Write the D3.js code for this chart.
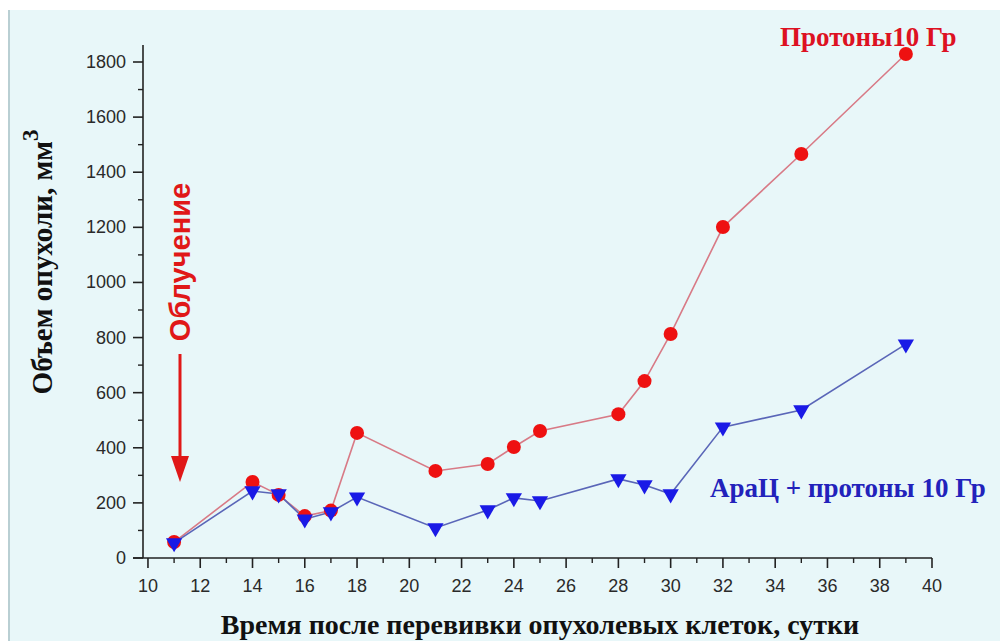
<!DOCTYPE html>
<html>
<head>
<meta charset="utf-8">
<script src="https://cdn.jsdelivr.net/npm/d3@7"></script>
<style>
  body { margin: 0; background: #fff; }
  svg { display: block; }
</style>
</head>
<body>
<div id="chart"></div>
<script>
// данные
var days = [11, 14, 15, 16, 17, 18, 21, 23, 24, 25, 28, 29, 30, 32, 35, 39];
var protons = [58, 276, 229, 152, 172, 454, 316, 341, 403, 461, 522, 642, 813, 1201, 1466, 1829];
var araProtons = [55, 243, 232, 141, 167, 221, 109, 174, 218, 207, 287, 265, 232, 475, 537, 776];

var xTicks = [10, 12, 14, 16, 18, 20, 22, 24, 26, 28, 30, 32, 34, 36, 38, 40];
var yTicks = [0, 200, 400, 600, 800, 1000, 1200, 1400, 1600, 1800];

var width = 1000, height = 641;

var svg = d3.select('#chart').append('svg')
  .attr('width', width)
  .attr('height', height);

// фон
svg.append('rect').attr('width', width).attr('height', height).attr('fill', '#ffffff');
svg.append('rect').attr('x', 10).attr('y', 10).attr('width', width - 10).attr('height', height - 10)
  .attr('fill', '#e8f7f9');
svg.append('rect').attr('x', 8).attr('y', 10).attr('width', 2).attr('height', height - 10)
  .attr('fill', '#b9cfd3');

var x = d3.scaleLinear().domain([9.81, 40]).range([143, 932]);
var y = d3.scaleLinear().domain([0, 1800]).range([558, 62]);

// оси
var axisColor = '#222';
var xAxis = svg.append('g').attr('transform', 'translate(0,558)');
xAxis.append('line').attr('x1', 133).attr('x2', x(40)).attr('stroke', axisColor).attr('stroke-width', 1.6);
xAxis.selectAll('.minor').data(d3.range(11, 40, 2)).enter().append('line')
  .attr('x1', function(d){ return x(d); }).attr('x2', function(d){ return x(d); })
  .attr('y1', 0).attr('y2', 5).attr('stroke', axisColor).attr('stroke-width', 1.4);
xAxis.selectAll('.major').data(xTicks).enter().append('line')
  .attr('x1', function(d){ return x(d); }).attr('x2', function(d){ return x(d); })
  .attr('y1', 0).attr('y2', 10).attr('stroke', axisColor).attr('stroke-width', 1.6);
xAxis.selectAll('text').data(xTicks).enter().append('text')
  .attr('x', function(d){ return x(d); }).attr('y', 34)
  .attr('text-anchor', 'middle')
  .style('font-family', 'Liberation Sans, Arial, sans-serif')
  .style('font-size', '18px').attr('fill', '#2a2a2a')
  .text(function(d){ return d; });

var yAxis = svg.append('g').attr('transform', 'translate(143,0)');
yAxis.append('line').attr('y1', 558).attr('y2', 45).attr('stroke', axisColor).attr('stroke-width', 1.6);
yAxis.selectAll('.minor').data(d3.range(100, 1800, 200)).enter().append('line')
  .attr('y1', function(d){ return y(d); }).attr('y2', function(d){ return y(d); })
  .attr('x1', 0).attr('x2', -5).attr('stroke', axisColor).attr('stroke-width', 1.4);
yAxis.selectAll('.major').data(yTicks).enter().append('line')
  .attr('y1', function(d){ return y(d); }).attr('y2', function(d){ return y(d); })
  .attr('x1', 0).attr('x2', -10).attr('stroke', axisColor).attr('stroke-width', 1.6);
yAxis.selectAll('text').data(yTicks).enter().append('text')
  .attr('x', -17).attr('y', function(d){ return y(d) + 6; })
  .attr('text-anchor', 'end')
  .style('font-family', 'Liberation Sans, Arial, sans-serif')
  .style('font-size', '18px').attr('fill', '#2a2a2a')
  .text(function(d){ return d; });

// линии
var line = d3.line()
  .x(function(d){ return x(d[0]); })
  .y(function(d){ return y(d[1]); });

var redData = d3.zip(days, protons);
var blueData = d3.zip(days, araProtons);

svg.append('path').datum(redData).attr('d', line)
  .attr('fill', 'none').attr('stroke', '#d87a86').attr('stroke-width', 1.6);
svg.append('path').datum(blueData).attr('d', line)
  .attr('fill', 'none').attr('stroke', '#5a66b8').attr('stroke-width', 1.6);

// маркеры
svg.selectAll('.red').data(redData).enter().append('circle')
  .attr('cx', function(d){ return x(d[0]); })
  .attr('cy', function(d){ return y(d[1]); })
  .attr('r', 7).attr('fill', '#ee1111');

var tri = d3.symbol().type(d3.symbolTriangle).size(115);
svg.selectAll('.blue').data(blueData).enter().append('path')
  .attr('d', tri)
  .attr('transform', function(d){ return 'translate(' + x(d[0]) + ',' + y(d[1]) + ') rotate(180)'; })
  .attr('fill', '#1a1ae6');

// подписи
svg.append('text').attr('x', 780).attr('y', 46)
  .style('font-family', 'Liberation Serif, Times New Roman, serif')
  .style('font-weight', 'bold').style('font-size', '27px')
  .attr('fill', '#dd1122').text('Протоны10 Гр');

svg.append('text').attr('x', 710).attr('y', 497)
  .style('font-family', 'Liberation Serif, Times New Roman, serif')
  .style('font-weight', 'bold').style('font-size', '27px')
  .attr('fill', '#2222bb').text('АраЦ + протоны 10 Гр');

// облучение
svg.append('text')
  .attr('transform', 'translate(190,262) rotate(-90)')
  .attr('text-anchor', 'middle')
  .style('font-family', 'Liberation Sans, Arial, sans-serif')
  .style('font-weight', 'bold').style('font-size', '29px')
  .attr('fill', '#e01818').text('Облучение');

svg.append('line').attr('x1', 180).attr('x2', 180).attr('y1', 354).attr('y2', 458)
  .attr('stroke', '#e01818').attr('stroke-width', 3);
svg.append('path').attr('d', 'M171,456 L189,456 L180,482 Z').attr('fill', '#e01818');

// подписи осей
var yLab = svg.append('text')
  .attr('transform', 'translate(52,262) rotate(-90)')
  .attr('text-anchor', 'middle')
  .style('font-family', 'Liberation Serif, Times New Roman, serif')
  .style('font-weight', 'bold').style('font-size', '29px')
  .attr('fill', '#111');
yLab.append('tspan').text('Объем опухоли, мм');
yLab.append('tspan').attr('dy', -14).style('font-size', '23px').text('3');

svg.append('text').attr('x', 540).attr('y', 634)
  .attr('text-anchor', 'middle')
  .style('font-family', 'Liberation Serif, Times New Roman, serif')
  .style('font-weight', 'bold').style('font-size', '28px')
  .attr('fill', '#111').text('Время после перевивки опухолевых клеток, сутки');
</script>
</body>
</html>
